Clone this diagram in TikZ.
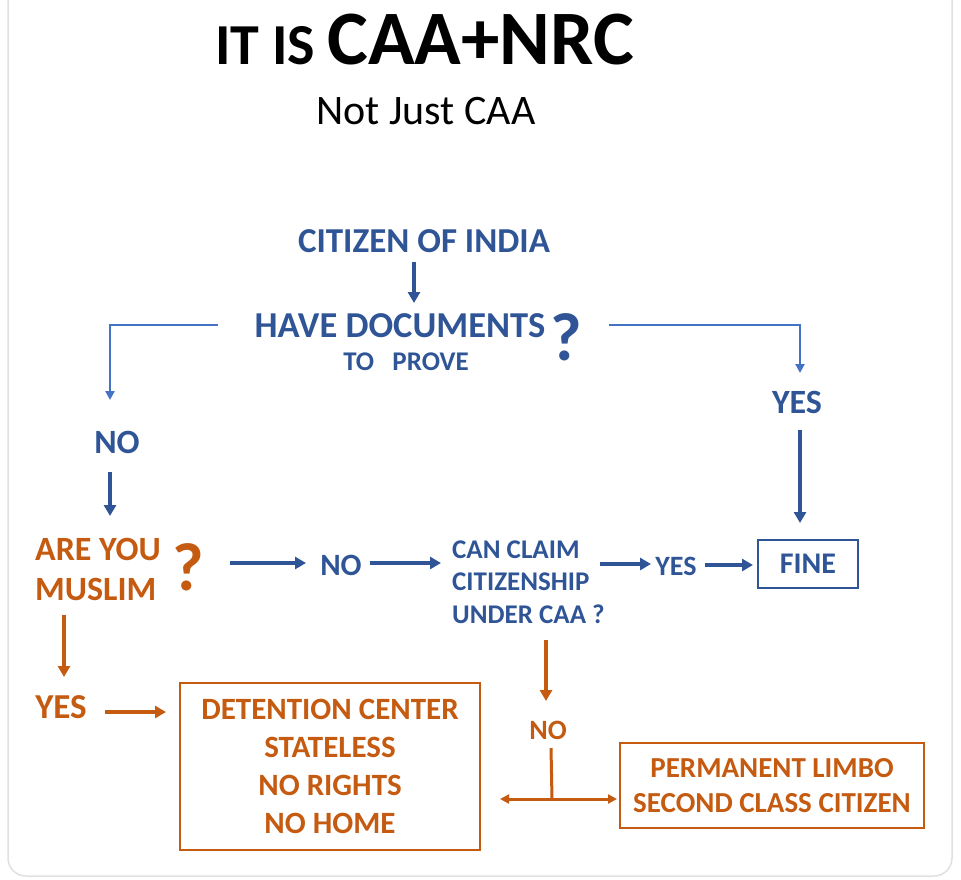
\documentclass[tikz,border=0pt]{standalone}
\usepackage{fontspec}
\setmainfont{Carlito}
\usetikzlibrary{arrows.meta}
\definecolor{dblue}{RGB}{47,85,151}
\definecolor{lblue}{RGB}{68,114,196}
\definecolor{orng}{RGB}{197,90,17}
\begin{document}
\begin{tikzpicture}[x=1pt,y=-1pt,
  bt/.style={text=dblue,font=\bfseries\fontsize{#1}{#1}\selectfont,inner sep=0pt,anchor=base},
  ot/.style={text=orng,font=\bfseries\fontsize{#1}{#1}\selectfont,inner sep=0pt,anchor=base},
  barrow/.style={draw=dblue,line width=3.8pt,-{Triangle[length=11pt,width=12pt]}},
  thinarrow/.style={draw=lblue,line width=2.8pt,-{Triangle[length=9pt,width=9pt]}},
  oarrow/.style={draw=orng,line width=3.8pt,-{Triangle[length=11pt,width=12pt]}},
  obox/.style={draw=orng,line width=2pt,text=orng,align=center,inner sep=0pt},
  bbox/.style={draw=dblue,line width=2pt,text=dblue,align=center,inner sep=0pt}]
\useasboundingbox (0,0) rectangle (961,879);
\draw[black!12,line width=1.5pt,rounded corners=18pt] (8,-20) rectangle (952,876);

% title
\node[anchor=base west,inner sep=0pt,font=\bfseries] (title) at (215,64)
  {{\fontsize{58}{58}\selectfont IT IS}\hspace{12pt}{\fontsize{77}{77}\selectfont CAA+NRC}};
\node[anchor=base,inner sep=0pt,font=\fontsize{42}{42}\selectfont] (sub) at (426,124) {Not Just CAA};

% top part
\node[bt=35] (cit) at (424,252) {CITIZEN OF INDIA};
\node[bt=36.5] (doc) at (400,337) {HAVE DOCUMENTS};
\node[bt=27] (prove) at (406,370) {TO\ \ \ PROVE};
\node[bt=68] (q1) at (566,360) {?};
\node[bt=34] (yes1) at (797,413) {YES};
\node[bt=34] (no1) at (117,453) {NO};

\coordinate (c1a) at (414,262); \coordinate (c1b) at (414,303);
\draw[barrow] (c1a) -- (c1b);
\coordinate (l1) at (218,325); \coordinate (l2) at (110,400);
\draw[thinarrow] (l1) -| (l2);
\coordinate (r1) at (609,325); \coordinate (r2) at (800,373);
\draw[thinarrow] (r1) -| (r2);
\coordinate (y1) at (800,430); \coordinate (y2) at (800,523);
\draw[barrow] (y1) -- (y2);
\coordinate (n1) at (110,472); \coordinate (n2) at (110,516);
\draw[barrow] (n1) -- (n2);

% middle row
\node[ot=34,anchor=base west,align=left,font=\bfseries\fontsize{34}{40}\selectfont] (mus) at (35,600) {ARE YOU\\MUSLIM};
\node[ot=68] (q2) at (188,590) {?};
\node[bt=31] (no2) at (341,575) {NO};
\node[bt=27,anchor=base west,align=left,font=\bfseries\fontsize{27}{32.5}\selectfont] (claim) at (452,623) {CAN CLAIM\\CITIZENSHIP\\UNDER CAA ?};
\node[bt=28] (yes2) at (676,575) {YES};
\node[bbox,minimum width=100pt,minimum height=48pt,font=\bfseries\fontsize{30}{30}\selectfont] (fine) at (808,564) {FINE};

\coordinate (m1) at (230,563); \coordinate (m2) at (306,563);
\draw[barrow] (m1) -- (m2);
\coordinate (m3) at (370,563); \coordinate (m4) at (441,563);
\draw[barrow] (m3) -- (m4);
\coordinate (m5) at (600,564); \coordinate (m6) at (651,564);
\draw[barrow] (m5) -- (m6);
\coordinate (m7) at (705,565); \coordinate (m8) at (753,565);
\draw[barrow] (m7) -- (m8);

% bottom part
\node[ot=35] (yes3) at (61,718) {YES};
\node[obox,minimum width=300pt,minimum height=167pt,font=\bfseries\fontsize{31}{38}\selectfont] (det) at (330,766.5)
  {DETENTION CENTER\\STATELESS\\NO RIGHTS\\NO HOME};
\node[ot=28] (no3) at (548,739) {NO};
\node[obox,minimum width=304pt,minimum height=85pt,font=\bfseries\fontsize{29}{35}\selectfont] (limbo) at (772,785.5)
  {PERMANENT LIMBO\\SECOND CLASS CITIZEN};

\coordinate (o1) at (64,615); \coordinate (o2) at (64,677);
\draw[oarrow] (o1) -- (o2);
\coordinate (o3) at (105,712); \coordinate (o4) at (166,712);
\draw[oarrow] (o3) -- (o4);
\coordinate (o5) at (546,640); \coordinate (o6) at (546,701);
\draw[oarrow] (o5) -- (o6);
\coordinate (o7) at (551,748); \coordinate (o8) at (552,799);
\draw[draw=orng,line width=3pt] (o7) -- (o8);
\coordinate (o9) at (500,799); \coordinate (o10) at (617,799);
\draw[draw=orng,line width=3pt,{Triangle[length=9pt,width=9pt]}-{Triangle[length=9pt,width=9pt]}] (o9) -- (o10);
\end{tikzpicture}
\end{document}
